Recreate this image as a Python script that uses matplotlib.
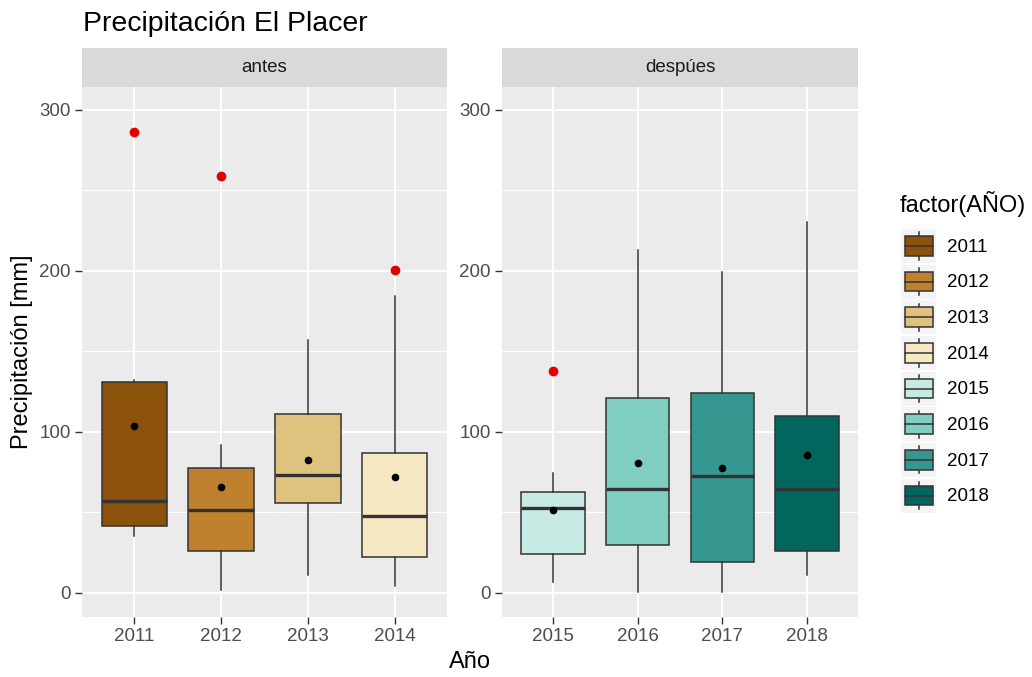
"""
Boxplots de precipitacion anual en El Placer, antes / despues.
Estilo ggplot (theme_grey) con facetas y leyenda de cajas.
"""

import matplotlib
matplotlib.use('Agg')
import matplotlib.pyplot as plt
from matplotlib.patches import Rectangle
from matplotlib.lines import Line2D
from matplotlib.legend_handler import HandlerBase

plt.rcParams['font.family'] = ['Liberation Sans', 'DejaVu Sans']

# --- datos ---
years = ['2011', '2012', '2013', '2014', '2015', '2016', '2017', '2018']
facet = ['antes', 'antes', 'antes', 'antes',
         'despúes', 'despúes', 'despúes', 'despúes']
whislo = [35.0, 1.5, 11.0, 4.0, 7.0, 0.4, 0.4, 11.0]
q1 = [41.5, 25.7, 55.7, 22.0, 24.0, 29.8, 19.0, 25.7]
med = [57.3, 51.6, 72.9, 47.8, 52.4, 64.2, 72.7, 64.2]
q3 = [130.6, 77.2, 111.2, 86.8, 62.5, 120.7, 123.8, 109.9]
whishi = [132.3, 91.9, 157.1, 184.5, 74.3, 212.6, 199.2, 230.2]
means = [103.7, 66.0, 82.6, 71.9, 51.4, 80.5, 77.6, 85.3]
outliers = [[286.2], [259.0], [], [200.2], [138.0], [], [], []]

colors = ['#8C510A', '#BF812D', '#DFC27D', '#F6E8C3',
          '#C7EAE5', '#80CDC1', '#35978F', '#01665E']

W, H = 1032, 677
LINE = '#333333'


def px_box(left, top, right, bottom):
    """Convert pixel box to figure fraction rect."""
    return [left / W, 1 - bottom / H, (right - left) / W, (bottom - top) / H]


class BoxKeyHandler(HandlerBase):
    """Legend key drawn like a small ggplot boxplot."""

    def create_artists(self, legend, orig_handle, xdescent, ydescent,
                       width, height, fontsize, trans):
        x0, y0 = -xdescent, -ydescent
        fc = orig_handle.get_facecolor()
        bg = Rectangle((x0, y0), width, height, facecolor='#F4F4F4',
                       edgecolor='none', transform=trans)
        whisk = Line2D([x0 + width / 2] * 2, [y0 + 0.1 * height, y0 + 0.9 * height],
                       color=LINE, lw=1.1, transform=trans)
        box = Rectangle((x0 + 0.1 * width, y0 + 0.21 * height), 0.8 * width,
                        0.58 * height, facecolor=fc, edgecolor=LINE, lw=1.1,
                        transform=trans)
        mline = Line2D([x0 + 0.1 * width, x0 + 0.9 * width], [y0 + height / 2] * 2,
                       color=LINE, lw=1.1, transform=trans)
        return [bg, whisk, box, mline]


fig = plt.figure(figsize=(W / 100, H / 100), dpi=100)

panels = [('antes', 82, 447), ('despúes', 502, 858)]
top, bottom, strip_top = 87, 617, 48

for name, left, right in panels:
    ax = fig.add_axes(px_box(left, top, right, bottom))
    idx = [i for i, f in enumerate(facet) if f == name]

    stats = []
    for i in idx:
        stats.append({'whislo': whislo[i], 'q1': q1[i], 'med': med[i],
                      'q3': q3[i], 'whishi': whishi[i], 'fliers': outliers[i],
                      'mean': means[i]})
    pos = list(range(1, len(idx) + 1))
    bp = ax.bxp(stats, positions=pos, widths=0.75, patch_artist=True,
                showcaps=False, showfliers=True, showmeans=True,
                boxprops=dict(edgecolor=LINE, linewidth=1.1),
                whiskerprops=dict(color=LINE, linewidth=1.1),
                medianprops=dict(color=LINE, linewidth=2.4),
                flierprops=dict(marker='o', markerfacecolor='#E00000',
                                markeredgecolor='#E00000', markersize=6),
                meanprops=dict(marker='o', markerfacecolor='black',
                               markeredgecolor='black', markersize=4.5))
    for patch, i in zip(bp['boxes'], idx):
        patch.set_facecolor(colors[i])

    ax.set_xlim(0.4, len(idx) + 0.6)
    ax.set_ylim(-15, 314)
    ax.set_xticks(pos)
    ax.set_xticklabels([years[i] for i in idx])
    ax.set_yticks([0, 100, 200, 300])
    ax.set_yticks([50, 150, 250], minor=True)

    ax.set_facecolor('#EBEBEB')
    ax.grid(True, which='major', color='white', linewidth=1.4)
    ax.grid(True, which='minor', axis='y', color='white', linewidth=0.8)
    ax.set_axisbelow(True)
    for s in ax.spines.values():
        s.set_visible(False)
    ax.tick_params(axis='both', which='major', colors=LINE, length=5,
                   width=1.0, labelsize=13.5, labelcolor='#4D4D4D', pad=3)
    ax.tick_params(axis='y', which='minor', length=0)

    # strip on top of the panel
    sax = fig.add_axes(px_box(left, strip_top, right, top))
    sax.set_facecolor('#D9D9D9')
    sax.set_xticks([])
    sax.set_yticks([])
    for s in sax.spines.values():
        s.set_visible(False)
    sax.text(0.5, 0.5, name, ha='center', va='center', fontsize=13.5,
             color='#1A1A1A', transform=sax.transAxes)

fig.text(83 / W, 1 - 24 / H, 'Precipitación El Placer', fontsize=20.5,
         ha='left', va='center', color='black')
fig.text(470 / W, 1 - 662 / H, 'Año', fontsize=17, ha='center', va='center')
fig.text(22 / W, 1 - 352 / H, 'Precipitación [mm]', fontsize=17,
         rotation=90, ha='center', va='center')

# legend: title as separate text so the gap to the keys matches ggplot
fig.text(900 / W, 1 - 204 / H, 'factor(AÑO)', fontsize=17,
         ha='left', va='center')
handles = [Rectangle((0, 0), 1, 1, facecolor=c) for c in colors]
fig.legend(handles, years, loc='upper left',
           bbox_to_anchor=(901 / W, 1 - 229 / H), frameon=False,
           handler_map={Rectangle: BoxKeyHandler()},
           handlelength=1.87, handleheight=2.41, labelspacing=0.09,
           handletextpad=0.56, borderpad=0, borderaxespad=0,
           fontsize=13.5)

plt.savefig('out.png', dpi=100)
